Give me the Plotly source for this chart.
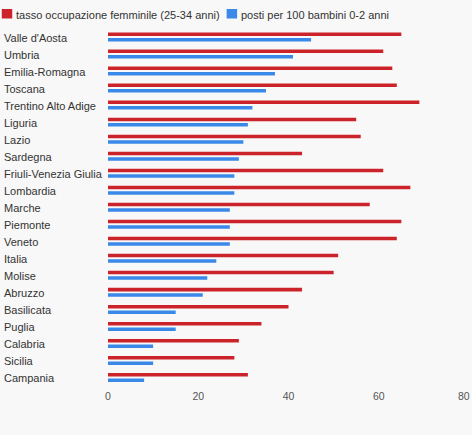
import plotly.graph_objects as go

regions = ["Valle d'Aosta", "Umbria", "Emilia-Romagna", "Toscana", "Trentino Alto Adige",
           "Liguria", "Lazio", "Sardegna", "Friuli-Venezia Giulia", "Lombardia", "Marche",
           "Piemonte", "Veneto", "Italia", "Molise", "Abruzzo", "Basilicata", "Puglia",
           "Calabria", "Sicilia", "Campania"]
occupazione = [65, 61, 63, 64, 69, 55, 56, 43, 61, 67, 58, 65, 64, 51, 50, 43, 40, 34, 29, 28, 31]
posti_nido = [45, 41, 37, 35, 32, 31, 30, 29, 28, 28, 27, 27, 27, 24, 22, 21, 15, 15, 10, 10, 8]
series_names = ["tasso occupazione femminile (25-34 anni)", "posti per 100 bambini 0-2 anni"]
x_ticks = [0, 20, 40, 60, 80]

RED = "#cc2229"
BLUE = "#3a89e8"
FONT = "Liberation Sans, Arial, sans-serif"

W, H = 472, 435
ML, MR, MT, MB = 108.3, 2.5, 28, 49
PW = W - ML - MR
PH = H - MT - MB

fig = go.Figure()
fig.add_trace(go.Bar(y=regions, x=occupazione, orientation="h", name=series_names[0],
                     marker=dict(color=RED, line=dict(width=0)), showlegend=False))
fig.add_trace(go.Bar(y=regions, x=posti_nido, orientation="h", name=series_names[1],
                     marker=dict(color=BLUE, line=dict(width=0)), showlegend=False))

def px_x(px):
    return (px - ML) / PW

def px_y(py):
    return 1 - (py - MT) / PH

shapes = []
annotations = []
# custom legend
legend_items = [(2, RED, series_names[0]), (227, BLUE, series_names[1])]
for x0, col, name in legend_items:
    shapes.append(dict(type="rect", xref="paper", yref="paper",
                       x0=px_x(x0), x1=px_x(x0 + 10.5), y0=px_y(18.5), y1=px_y(9),
                       fillcolor=col, line=dict(width=0)))
    annotations.append(dict(text=name, xref="paper", yref="paper", x=px_x(x0 + 12), y=px_y(14.5),
                            xanchor="left", yanchor="middle", showarrow=False,
                            font=dict(family=FONT, size=11, color="#333333")))
# category labels, left aligned
for r in regions:
    annotations.append(dict(text=r, xref="paper", yref="y", x=px_x(2), y=r,
                            xanchor="left", yanchor="middle", yshift=-1, showarrow=False,
                            font=dict(family=FONT, size=11, color="#333333")))
# last x tick label, pulled inside the chart edge
annotations.append(dict(text=str(x_ticks[-1]), xref="x", yref="paper", x=x_ticks[-1], y=px_y(396),
                        xanchor="center", yanchor="middle", xshift=-5, showarrow=False,
                        font=dict(family=FONT, size=10.5, color="#555555")))

fig.update_layout(
    width=W, height=H,
    margin=dict(l=ML, r=MR, t=MT, b=MB),
    paper_bgcolor="#f8f8f8", plot_bgcolor="#f8f8f8",
    barmode="group", bargap=0.356, bargroupgap=0.36,
    showlegend=False,
    shapes=shapes, annotations=annotations,
    xaxis=dict(range=[0, 80], tickvals=x_ticks[:-1], showgrid=False, zeroline=False, automargin=False,
               showline=False, ticks="", ticklabelstandoff=2,
               tickfont=dict(family=FONT, size=10.5, color="#555555")),
    yaxis=dict(autorange="reversed", showticklabels=False, showgrid=False, zeroline=False,
               automargin=False, showline=False, ticks=""),
    font=dict(family=FONT),
)

fig.write_html("out.html", config={"displayModeBar": False},
               post_script="document.body.style.margin='0';document.body.style.background='#ffffff';")
